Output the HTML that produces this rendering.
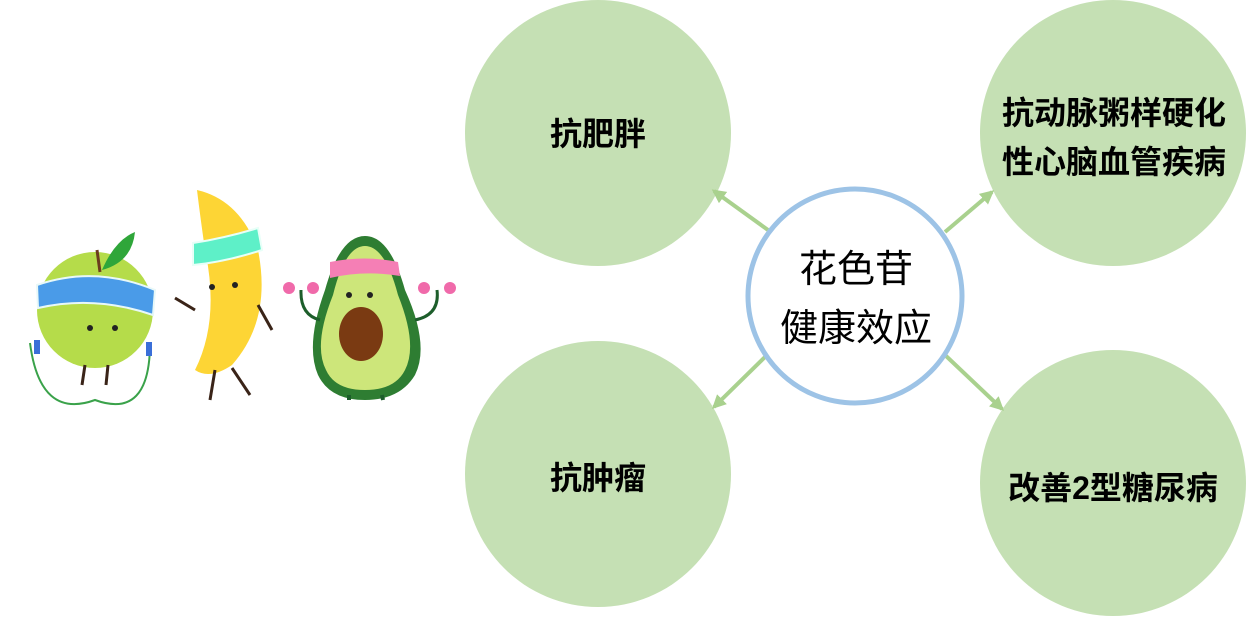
<!DOCTYPE html>
<html><head><meta charset="utf-8"><style>
body{margin:0;width:1248px;height:617px;background:#fff;overflow:hidden}
svg text{font-family:"Liberation Sans","Noto Sans CJK SC",sans-serif;}
</style></head><body>
<svg width="1248" height="617" viewBox="0 0 1248 617" xmlns="http://www.w3.org/2000/svg">
<defs>
<marker id="b" viewBox="0 0 10 10" markerWidth="14" markerHeight="14" refX="8" refY="5" orient="auto" markerUnits="userSpaceOnUse"><path d="M0,0 L10,5 L0,10 z" fill="#a9d18e"/></marker></defs>
<circle cx="598" cy="133" r="133" fill="#c5e0b4"/>
<circle cx="1113" cy="133" r="133" fill="#c5e0b4"/>
<circle cx="598" cy="474" r="133" fill="#c5e0b4"/>
<circle cx="1113" cy="483" r="133" fill="#c5e0b4"/>
<g stroke="#a9d18e" stroke-width="4" marker-end="url(#b)">
<line x1="768" y1="230" x2="714" y2="191"/>
<line x1="945" y1="232" x2="992" y2="192"/>
<line x1="765" y1="357" x2="714" y2="407"/>
<line x1="945" y1="355" x2="1002" y2="409"/>
</g>
<circle cx="855" cy="296" r="107" fill="#fff" stroke="#9dc3e6" stroke-width="5"/>
<g font-size="38" text-anchor="middle" fill="#000">
<text x="856" y="282">花色苷</text>
<text x="856" y="341">健康效应</text>
</g>
<g font-size="32" font-weight="bold" text-anchor="middle" fill="#000">
<text x="598" y="145">抗肥胖</text>
<text x="1114" y="124">抗动脉粥样硬化</text>
<text x="1114" y="173">性心脑血管疾病</text>
<text x="598" y="489">抗肿瘤</text>
<text x="1113" y="499">改善2型糖尿病</text>
</g>
<!-- apple -->
<path d="M30 343 Q40 420 95 400 Q150 420 150 343" fill="none" stroke="#3aa24a" stroke-width="2"/>
<circle cx="95" cy="310" r="58" fill="#b5dc4a"/>
<path d="M37 285 Q95 265 155 290 L153 315 Q95 295 38 308z" fill="#4a9be8" stroke="#e8f8f8" stroke-width="2"/>
<path d="M102 270 Q115 240 135 232 Q132 262 102 270z" fill="#2fa63a"/>
<path d="M100 272 L97 250" stroke="#6b3c1e" stroke-width="3"/>
<circle cx="90" cy="328" r="3" fill="#222"/><circle cx="115" cy="328" r="3" fill="#222"/>
<rect x="34" y="340" width="6" height="14" fill="#3a6fd8"/><rect x="146" y="342" width="6" height="14" fill="#3a6fd8"/>
<path d="M85 365 L82 385 M108 365 L106 385" stroke="#3a2418" stroke-width="3"/>
<!-- banana -->
<path d="M197 190 Q240 200 258 250 Q272 320 232 365 Q210 380 195 370 Q220 320 205 250 Q200 215 197 190z" fill="#fdd535"/>
<path d="M193 243 Q225 238 258 228 L262 250 Q225 262 193 265z" fill="#5ef0c8" stroke="#e8fff8" stroke-width="2"/>
<circle cx="212" cy="287" r="3" fill="#222"/><circle cx="235" cy="285" r="3" fill="#222"/>
<path d="M175 298 L195 310 M258 305 L272 330" stroke="#3a2418" stroke-width="3"/>
<path d="M215 370 L210 400 M232 368 L250 395" stroke="#3a2418" stroke-width="3"/>
<!-- avocado -->
<path d="M365 236 Q390 236 405 290 Q430 345 415 375 Q400 400 365 400 Q330 400 318 375 Q305 345 325 290 Q340 236 365 236z" fill="#2e7d32"/>
<path d="M365 246 Q385 246 398 295 Q418 345 405 370 Q395 390 365 390 Q335 390 326 370 Q313 345 333 295 Q345 246 365 246z" fill="#cde67a"/>
<path d="M330 262 Q365 255 398 262 L400 276 Q365 270 330 278z" fill="#f57fb5"/>
<ellipse cx="361" cy="334" rx="22" ry="27" fill="#7a3a12"/>
<circle cx="349" cy="295" r="3" fill="#222"/><circle cx="370" cy="295" r="3" fill="#222"/>
<circle cx="289" cy="288" r="6" fill="#f06aaa"/><circle cx="313" cy="288" r="6" fill="#f06aaa"/>
<circle cx="424" cy="288" r="6" fill="#f06aaa"/><circle cx="450" cy="288" r="6" fill="#f06aaa"/>
<path d="M301 290 Q300 315 320 320 M437 290 Q440 315 415 320" fill="none" stroke="#1d5e2b" stroke-width="3"/>
<path d="M349 395 L349 400 M382 395 L383 400" stroke="#1d5e2b" stroke-width="4"/>
</svg>
</body></html>
